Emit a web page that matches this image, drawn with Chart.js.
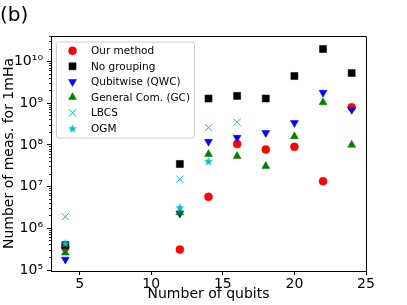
<!DOCTYPE html>
<html>
<head>
<meta charset="utf-8">
<script src="https://cdn.jsdelivr.net/npm/chart.js@4.4.0/dist/chart.umd.min.js"></script>
<style>
  html, body { margin: 0; padding: 0; background: #fff; }
  #wrap { width: 407px; height: 305px; }
</style>
</head>
<body>
<div id="wrap"><canvas id="chart" width="407" height="305"></canvas></div>
<script>
const qubits = [4, 12, 14, 16, 18, 20, 22, 24];
const ourMethod = [3.5e5, 3.1e5, 5.7e6, 1.05e8, 7.8e7, 9e7, 1.35e7, 8e8];
const noGrouping = [4e5, 3.5e7, 1.3e9, 1.5e9, 1.3e9, 4.5e9, 2e10, 5.3e9];
const qubitwise = [1.8e5, 2.3e6, 1.2e8, 1.5e8, 1.95e8, 3.4e8, 1.8e9, 7e8];
const generalCom = [2.6e5, 2.4e6, 6e7, 5.4e7, 3.1e7, 1.6e8, 1.05e9, 1e8];
const lbcsQubits = [4, 12, 14, 16];
const lbcs = [1.9e6, 1.5e7, 2.6e8, 3.5e8];
const ogmQubits = [4, 12, 14];
const ogm = [4.4e5, 3.2e6, 4.1e7];

const xTicks = [5, 10, 15, 20, 25];
const yMajorTicks = [1e5, 1e6, 1e7, 1e8, 1e9, 1e10];
const yTickLabels = ['10⁵', '10⁶', '10⁷', '10⁸', '10⁹', '10¹⁰'];
const yMin = 9.5e4, yMax = 4.1e10;

// minor ticks 2..9 in every decade
const yMinorTicks = [];
for (let e = 4; e <= 10; e++) {
  for (let m = 2; m <= 9; m++) {
    const v = m * Math.pow(10, e);
    if (v > yMin && v < yMax) yMinorTicks.push(v);
  }
}

function pts(xs, ys) {
  return xs.map((x, i) => ({ x: x, y: ys[i] }));
}

// filled five point star like matplotlib '*'
function makeStar(r, color) {
  const c = document.createElement('canvas');
  const s = Math.ceil(r * 2 + 2);
  c.width = s; c.height = s;
  const g = c.getContext('2d');
  g.fillStyle = color;
  g.strokeStyle = color;
  g.lineWidth = 0.6;
  g.beginPath();
  for (let i = 0; i < 10; i++) {
    const rad = i % 2 === 0 ? r : r * 0.42;
    const a = -Math.PI / 2 + i * Math.PI / 5;
    const px = s / 2 + rad * Math.cos(a), py = s / 2 + 0.6 + rad * Math.sin(a);
    if (i === 0) g.moveTo(px, py); else g.lineTo(px, py);
  }
  g.closePath();
  g.fill();
  g.stroke();
  return c;
}

Chart.defaults.font.family = '"DejaVu Sans", sans-serif';
Chart.defaults.color = '#000';

// legend box drawn inside the axes, matplotlib style
const legendBox = {
  id: 'legendBox',
  afterDraw(chart) {
    const { ctx, chartArea } = chart;
    const x0 = chartArea.left + 5.5, y0 = chartArea.top + 6;
    ctx.save();
    ctx.beginPath();
    ctx.roundRect(x0, y0, 138, 96, 2.5);
    ctx.fillStyle = 'rgba(255,255,255,0.8)';
    ctx.fill();
    ctx.strokeStyle = '#cccccc';
    ctx.lineWidth = 1;
    ctx.stroke();
    ctx.font = '10.5px "DejaVu Sans"';
    ctx.textBaseline = 'middle';
    chart.data.datasets.forEach((ds, i) => {
      const cy = y0 + 8.8 + i * 15.5;
      ctx.fillStyle = ds.backgroundColor;
      ctx.strokeStyle = ds.borderColor;
      ctx.lineWidth = ds.borderWidth;
      Chart.helpers.drawPoint(ctx, {
        pointStyle: ds.pointStyle,
        radius: ds.pointRadius,
        rotation: ds.pointRotation || 0,
        borderWidth: ds.borderWidth
      }, x0 + 16, cy);
      ctx.fillStyle = '#000';
      ctx.fillText(ds.label, x0 + 34.5, cy + 0.5);
    });
    ctx.restore();
  }
};

// top and right spines
const frame = {
  id: 'frame',
  afterDatasetsDraw(chart) {
    const { ctx, chartArea: a } = chart;
    ctx.save();
    ctx.strokeStyle = '#000';
    ctx.lineWidth = 1;
    ctx.beginPath();
    ctx.moveTo(a.left, a.top + 0.5);
    ctx.lineTo(a.right + 0.5, a.top + 0.5);
    ctx.lineTo(a.right + 0.5, a.bottom);
    ctx.stroke();
    ctx.restore();
  }
};

const ctx = document.getElementById('chart').getContext('2d');
const chart = new Chart(ctx, {
  type: 'scatter',
  data: {
    datasets: [
      {
        label: 'Our method', data: pts(qubits, ourMethod), order: 0,
        pointStyle: 'circle', pointRadius: 4,
        backgroundColor: '#ff0000', borderColor: '#ff0000', borderWidth: 0.5
      },
      {
        label: 'No grouping', data: pts(qubits, noGrouping), order: -1,
        pointStyle: 'rect', pointRadius: 5,
        backgroundColor: '#000000', borderColor: '#000000', borderWidth: 0.5
      },
      {
        label: 'Qubitwise (QWC)', data: pts(qubits, qubitwise), order: -2,
        pointStyle: 'triangle', pointRotation: 180, pointRadius: 4.6,
        backgroundColor: '#0000ff', borderColor: '#0000ff', borderWidth: 0.5
      },
      {
        label: 'General Com. (GC)', data: pts(qubits, generalCom), order: -3,
        pointStyle: 'triangle', pointRadius: 4.6,
        backgroundColor: '#008000', borderColor: '#008000', borderWidth: 0.5
      },
      {
        label: 'LBCS', data: pts(lbcsQubits, lbcs), order: -4,
        pointStyle: 'crossRot', pointRadius: 5,
        backgroundColor: '#00bfbf', borderColor: '#00bfbf', borderWidth: 1
      },
      {
        label: 'OGM', data: pts(ogmQubits, ogm), order: -5,
        pointStyle: makeStar(4, '#00bfbf'), pointRadius: 4,
        backgroundColor: '#00bfbf', borderColor: '#00bfbf', borderWidth: 0
      }
    ]
  },
  options: {
    responsive: false,
    animation: false,
    events: [],
    layout: { padding: { left: 0, right: 41, top: 0, bottom: 0 } },
    plugins: {
      legend: { display: false },
      tooltip: { enabled: false },
      title: {
        display: true, text: '(b)', align: 'start', color: '#000',
        font: { size: 20, weight: 'normal' },
        padding: { top: 4, bottom: 8 }
      }
    },
    scales: {
      x: {
        type: 'linear', min: 3, max: 25, bounds: 'data',
        afterBuildTicks: s => { s.ticks = xTicks.map(v => ({ value: v })); },
        afterFit: s => { s.height = 34; },
        grid: { drawOnChartArea: false, drawTicks: true, tickLength: 4, tickColor: '#000', tickWidth: 1 },
        border: { display: true, color: '#000', width: 1 },
        ticks: { font: { size: 14 }, color: '#000', padding: 1, maxRotation: 0, autoSkip: false },
        title: {
          display: true, text: 'Number of qubits', color: '#000',
          font: { size: 14 }, padding: { top: 0, bottom: 2 }
        }
      },
      y: {
        type: 'logarithmic', position: 'left', weight: 1,
        min: yMin, max: yMax, bounds: 'data',
        afterBuildTicks: s => { s.ticks = yMajorTicks.map(v => ({ value: v })); },
        afterFit: s => { s.width = 51; },
        grid: { drawOnChartArea: false, drawTicks: true, tickLength: 4, tickColor: '#000', tickWidth: 1 },
        border: { display: true, color: '#000', width: 1 },
        ticks: {
          font: { size: 14 }, color: '#000', padding: 4, autoSkip: false,
          callback: (v, i) => yTickLabels[i]
        },
        title: {
          display: true, text: 'Number of meas. for 1mHa', color: '#000',
          font: { size: 14 }, padding: { top: 1, bottom: 0 }
        }
      },
      yMinor: {
        type: 'logarithmic', position: 'left', weight: 0,
        min: yMin, max: yMax, bounds: 'data',
        afterBuildTicks: s => { s.ticks = yMinorTicks.map(v => ({ value: v })); },
        afterFit: s => { s.width = 0; },
        grid: { drawOnChartArea: false, drawTicks: true, tickLength: 2, tickColor: '#000', tickWidth: 0.8 },
        border: { display: false },
        ticks: { display: false }
      }
    }
  },
  plugins: [frame, legendBox]
});
</script>
</body>
</html>
